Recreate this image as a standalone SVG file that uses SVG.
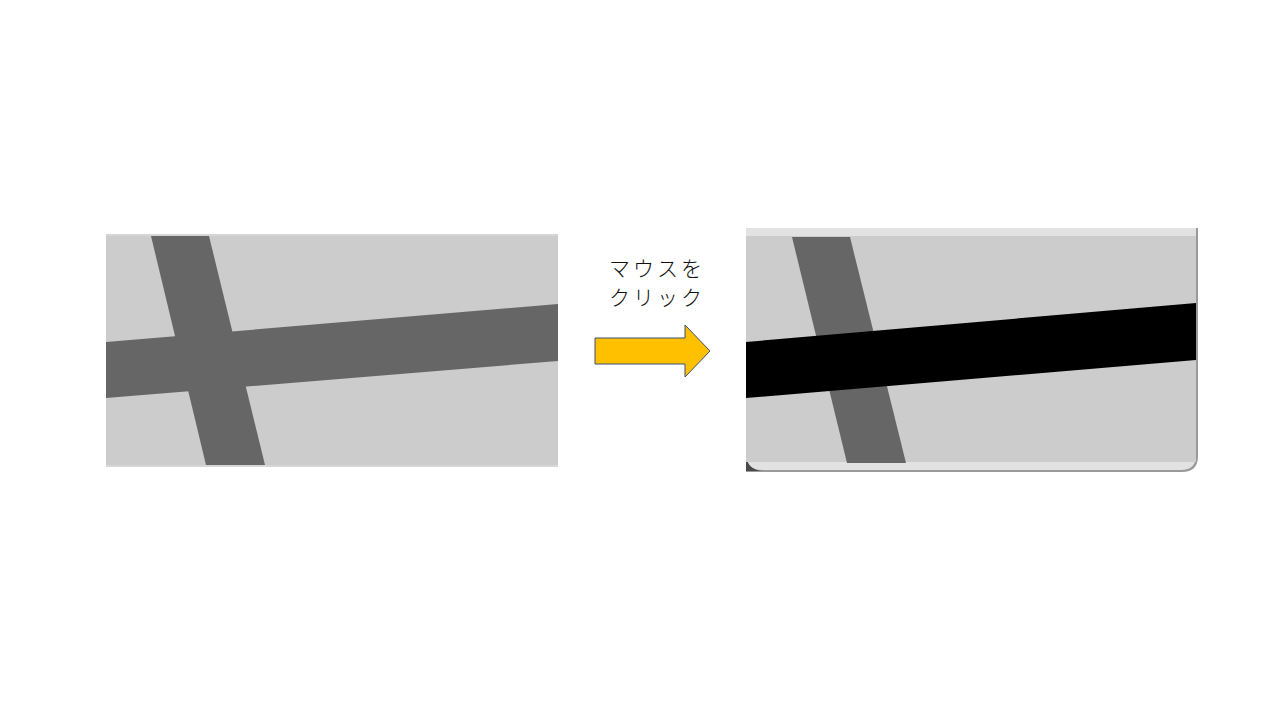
<svg xmlns="http://www.w3.org/2000/svg" width="1280" height="720" viewBox="0 0 1280 720">
<style>
.bg{fill:#cccccc}
.road{fill:#666666}
.lbl{font-family:"Noto Sans CJK JP","Noto Sans",sans-serif;font-size:21px;font-weight:300;fill:#111;letter-spacing:3px}
</style>
<rect width="1280" height="720" fill="#ffffff"/>
<g id="before">
<rect x="106" y="234" width="452" height="233" fill="#d6d6d6"/>
<rect class="bg" x="106" y="236" width="452" height="229"/>
<polygon class="road" points="151,236 209,236 265,465 206,465"/>
<polygon class="road" points="106,342 558,304 558,361 106,398"/>
</g>
<g id="after">
<path d="M746,452 H766 V472 H746 Z" fill="#4a4a4a"/>
<path d="M746,228 H1198 V456 Q1198,472 1182,472 H746 Z" fill="#9a9a9a"/>
<path d="M746,228 H1196 V455 Q1196,470 1181,470 H762 Q746,470 746,454 Z" fill="#e2e2e2"/>
<path d="M746,452 Q746,471 764,471 H746 Z" fill="#4a4a4a"/>
<rect class="bg" x="746" y="236" width="450" height="226"/>
<path d="M746,440 Q746,462 768,462 H746 Z" fill="#cccccc"/>
<polygon class="road" points="792,237 850,237 906,463 847,463"/>
<polygon points="746,342 1196,303 1196,360 746,398" fill="#000000"/>
</g>
<g id="action">
<text class="lbl" x="657" y="276" text-anchor="middle">マウスを</text>
<text class="lbl" x="657" y="305" text-anchor="middle">クリック</text>
<polygon points="595,338 685,338 685,325 710,351 685,377 685,364 595,364" fill="#ffc000" stroke="#3d4f6e" stroke-width="1"/>
</g>
</svg>
